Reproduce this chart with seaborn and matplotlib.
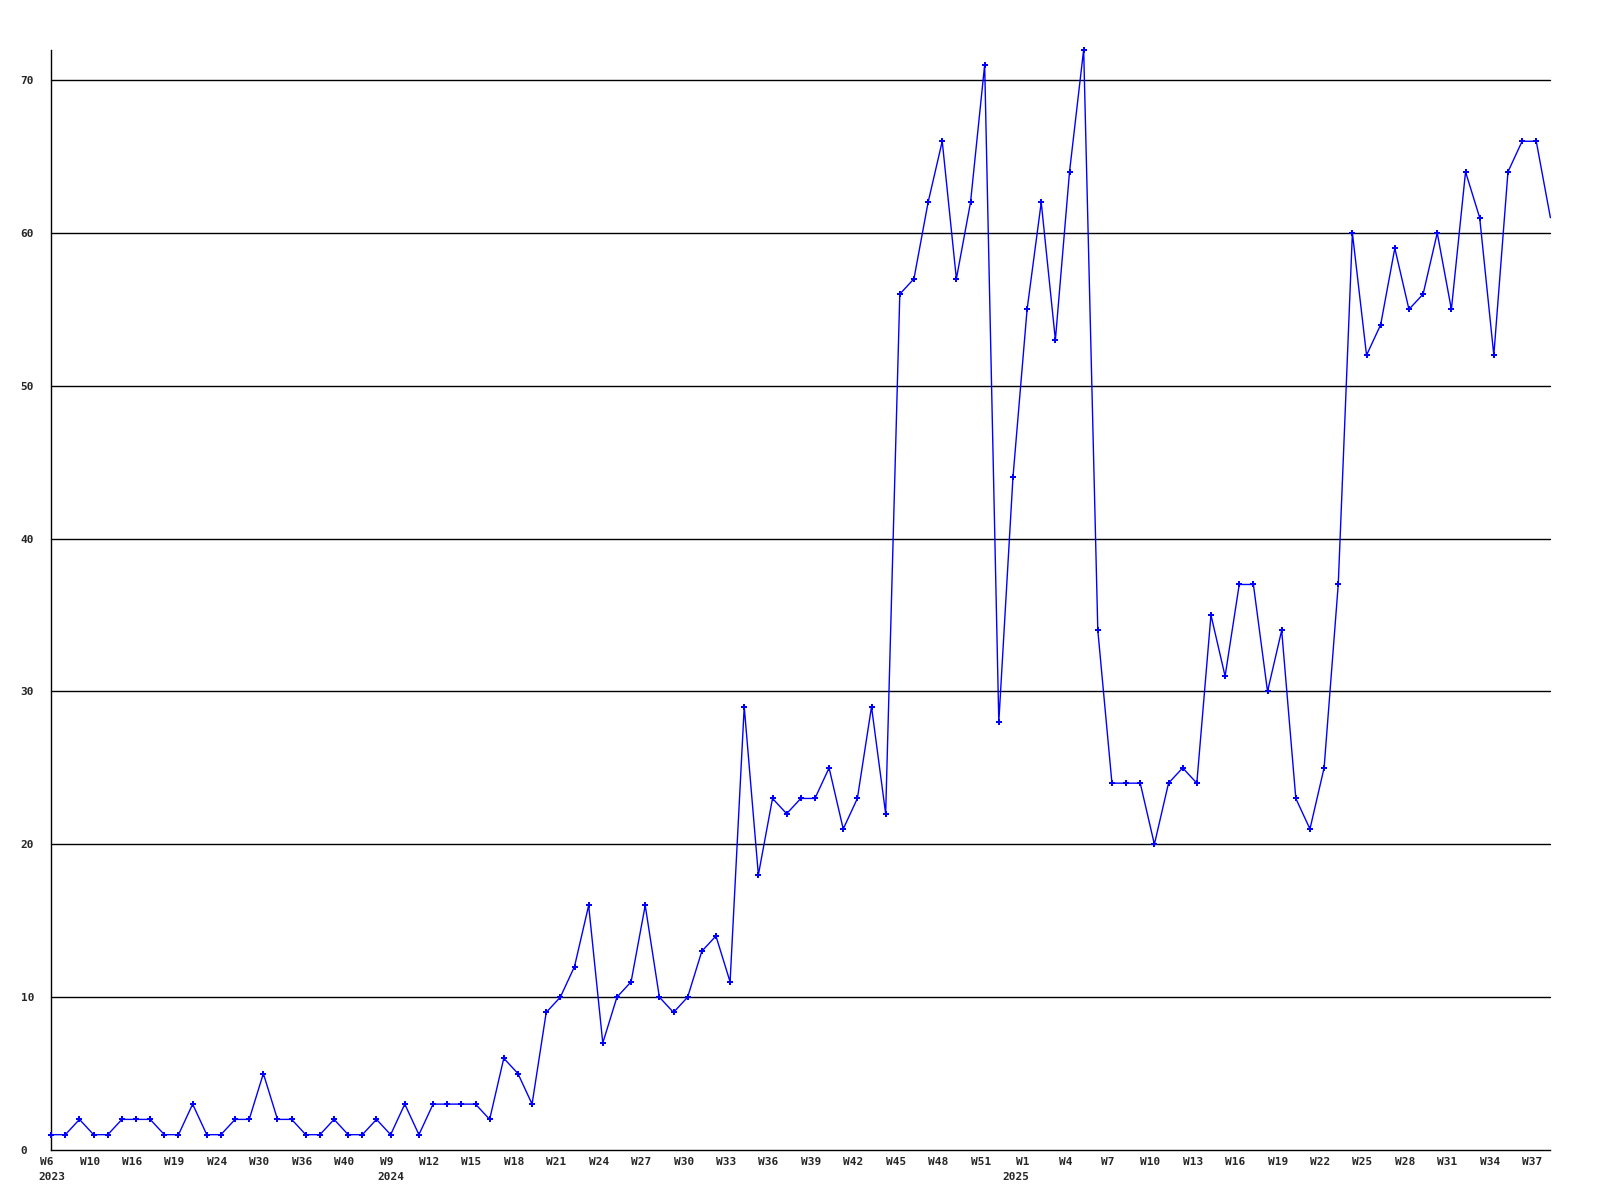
import matplotlib
matplotlib.use("Agg")
import matplotlib.pyplot as plt
import matplotlib.transforms as mtransforms
import pandas as pd
import seaborn as sns

# weekly counts, one value per sample
values = [1, 1, 2, 1, 1, 2, 2, 2, 1, 1,
          3, 1, 1, 2, 2, 5, 2, 2, 1, 1,
          2, 1, 1, 2, 1, 3, 1, 3, 3, 3,
          3, 2, 6, 5, 3, 9, 10, 12, 16, 7,
          10, 11, 16, 10, 9, 10, 13, 14, 11, 29,
          18, 23, 22, 23, 23, 25, 21, 23, 29, 22,
          56, 57, 62, 66, 57, 62, 71, 28, 44, 55,
          62, 53, 64, 72, 34, 24, 24, 24, 20, 24,
          25, 24, 35, 31, 37, 37, 30, 34, 23, 21,
          25, 37, 60, 52, 54, 59, 55, 56, 60, 55,
          64, 61, 52, 64, 66, 66, 61]

week_labels = ["W6", "W10", "W16", "W19", "W24", "W30", "W36", "W40",
               "W9", "W12", "W15", "W18", "W21", "W24", "W27", "W30",
               "W33", "W36", "W39", "W42", "W45", "W48", "W51", "W1",
               "W4", "W7", "W10", "W13", "W16", "W19", "W22", "W25",
               "W28", "W31", "W34", "W37"]
label_step = 3
year_labels = ["2023", "2024", "2025"]
year_at = [0, 24, 69]

df = pd.DataFrame({"idx": range(len(values)), "count": values})

sns.set_style("white")
plt.rcParams["font.family"] = ["DejaVu Sans Mono"]

fig = plt.figure(figsize=(16, 12), dpi=100)
ax = fig.add_axes([0.032, 0.0417, 0.937, 0.917])

for v in range(10, 80, 10):
    ax.axhline(v, color="black", linewidth=1, zorder=1)

# last sample sits on the right edge, its marker is cut off there
sns.lineplot(data=df, x="idx", y="count", ax=ax, color="#0000ff",
             linewidth=1, marker="P", markersize=5, markeredgewidth=0,
             markevery=list(range(len(values) - 1)), zorder=3)
for ln in ax.lines:
    ln.set_clip_on(False)

ax.set_xlim(0, len(values) - 1)
ax.set_ylim(0, 72)
ax.set_xlabel("")
ax.set_ylabel("")

ax.set_yticks(range(0, 80, 10))
ax.set_yticklabels([str(v) for v in range(0, 80, 10)],
                   fontsize=8, fontweight="bold")
for lab in ax.get_yticklabels():
    lab.set_ha("left")
ax.tick_params(axis="y", length=0, pad=22)

ax.set_xticks(range(0, len(week_labels) * label_step, label_step))
ax.set_xticklabels(week_labels, fontsize=8, fontweight="bold")
ax.tick_params(axis="x", length=0, pad=5)
shift = mtransforms.ScaledTranslation(-4 / 100, 0, fig.dpi_scale_trans)
for lab in ax.get_xticklabels():
    lab.set_transform(lab.get_transform() + shift)

# year labels under the first week of each year
trans = mtransforms.blended_transform_factory(ax.transData, ax.transAxes)
for yr, pos in zip(year_labels, year_at):
    ha = "right" if yr == "2025" else "left"
    dx = 2 if yr == "2025" else -13
    t = mtransforms.offset_copy(trans, fig=fig, x=dx, y=-22, units="dots")
    ax.text(pos, 0, yr, transform=t, ha=ha, va="top",
            fontsize=8, fontweight="bold")

for side in ["top", "right"]:
    ax.spines[side].set_visible(False)
for side in ["left", "bottom"]:
    ax.spines[side].set_color("black")
    ax.spines[side].set_linewidth(1)

plt.savefig("out.png", dpi=100, facecolor="white")
